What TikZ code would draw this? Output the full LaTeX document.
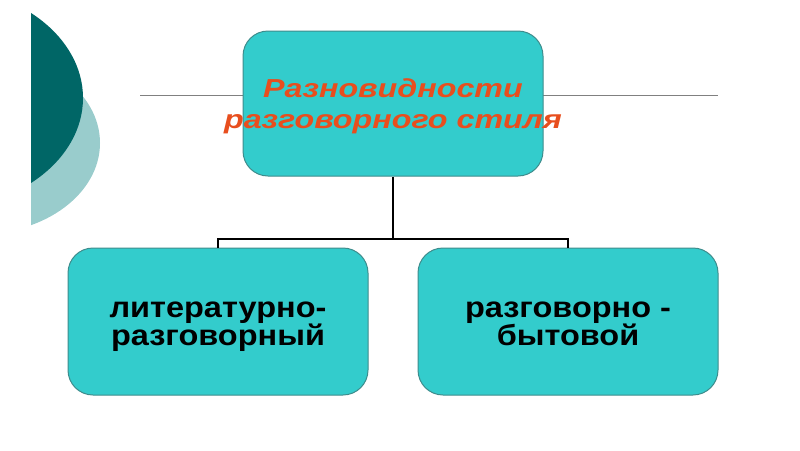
\documentclass[tikz,border=0pt]{standalone}
\usepackage{fontspec}
\setmainfont{Liberation Sans}
\usepackage{graphicx}
\usepackage{tikz}
\definecolor{boxfill}{RGB}{51,204,204}
\definecolor{boxline}{RGB}{62,140,140}
\definecolor{titlered}{RGB}{232,78,30}
\definecolor{darkteal}{RGB}{0,102,102}
\definecolor{lightteal}{RGB}{153,204,204}
\newcommand{\stretchx}[2]{\scalebox{#1}[1]{#2}}

\begin{document}
\begin{tikzpicture}[x=1pt,y=-1pt,
  kind/.style={draw=boxline, line width=1pt, fill=boxfill, rounded corners=25pt,
    minimum width=300pt, inner sep=0pt},
  titletext/.style={anchor=base, align=center, inner sep=0pt, text=titlered,
    font=\bfseries\itshape\fontsize{26}{31}\selectfont},
  kindtext/.style={anchor=base, align=center, inner sep=0pt,
    font=\bfseries\fontsize{29}{28}\selectfont},
  branch/.style={draw=black, line width=1.4pt},
  rule/.style={draw=gray, line width=0.9pt}]
			\useasboundingbox (0,0) rectangle (800,450);

			% left corner decoration
			\begin{scope}
				\clip (31,0) rectangle (220,450);
				\fill[lightteal] (-21,143) ellipse [x radius=121, y radius=91];
				\fill[darkteal] (-66,98) ellipse [x radius=149, y radius=112];
			\end{scope}

			\coordinate (ruleL) at (140,95);
			\coordinate (ruleR) at (718,95);
			\draw[rule] (ruleL) -- (ruleR);

			% boxes
			\node (top) at (393,103.5) [kind, minimum height=145pt] {};
			\node (lit) at (218,321.5) [kind, minimum height=147pt] {};
			\node (byt) at (568,321.5) [kind, minimum height=147pt] {};

			% texts (base = last line)
			\node (toptitle) at (393,128) [titletext]
				{\stretchx{1.24}{Разновидности}\\ \stretchx{1.24}{разговорного стиля}};
			\node (littext) at (218,345) [kindtext]
				{\stretchx{1.12}{литературно-}\\ \stretchx{1.12}{разговорный}};
			\node (byttext) at (568,345) [kindtext]
				{\stretchx{1.12}{разговорно -}\\ \stretchx{1.12}{бытовой}};

			\coordinate (split) at (393,239);
			\draw[branch] (top.south) -- (split);
			\draw[branch] (lit.north) |- (split) -| (byt.north);
		\end{tikzpicture}
\end{document}
